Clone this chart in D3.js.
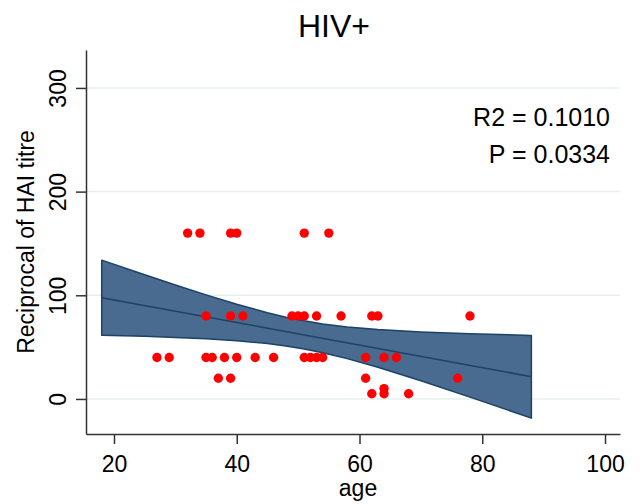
<!DOCTYPE html>
<html>
<head>
<meta charset="utf-8">
<script src="https://cdn.jsdelivr.net/npm/d3@7"></script>
<style>
  html, body { margin: 0; padding: 0; background: #fff; }
  svg { display: block; font-family: "Liberation Sans", Arial, sans-serif; }
</style>
</head>
<body>
<div id="chart"></div>
<script>
// data
const ages   = [32, 34, 39, 40, 51, 55,
                35, 39, 41, 49, 50, 51, 53, 57, 62, 63, 78,
                27, 29, 35, 36, 38, 40, 43, 46, 51, 52, 53, 54, 61, 64, 66,
                37, 39, 61, 76,
                64,
                62, 64, 68];
const titres = [160, 160, 160, 160, 160, 160,
                80, 80, 80, 80, 80, 80, 80, 80, 80, 80, 80,
                40, 40, 40, 40, 40, 40, 40, 40, 40, 40, 40, 40, 40, 40, 40,
                20, 20, 20, 20,
                10,
                5, 5, 5];

// fitted line and 95% CI band
const bandAges  = [18, 25, 30, 35, 40, 45, 48, 51, 54, 58, 63, 70, 78, 88];
const bandUpper = [133.9, 119.8, 109.9, 100.4, 91.3, 83.2, 78.9, 75.4, 72.4, 69.5, 66.9, 64.7, 63.0, 61.2];
const bandLower = [61.5, 60.4, 59.3, 58.0, 56.2, 53.4, 51.1, 48.2, 44.6, 38.9, 30.5, 17.5, 1.8, -18.5];
const fitAges   = [18, 88];
const fitValues = [97.7, 21.5];

const xTicks = [20, 40, 60, 80, 100];
const yTicks = [0, 100, 200, 300];
const title = "HIV+";
const xTitle = "age";
const yTitle = "Reciprocal of HAI titre";
const stats = ["R2 = 0.1010", "P = 0.0334"];

const W = 640, H = 504;
const plotLeft = 86, plotRight = 620, plotTop = 50, plotBottom = 434;

const x = d3.scaleLinear().domain([15.44, 102.44]).range([plotLeft, plotRight]);
const y = d3.scaleLinear().domain([-33.8, 336.6]).range([plotBottom, plotTop]);

const svg = d3.select("#chart").append("svg")
    .attr("width", W)
    .attr("height", H);

// gridlines
svg.append("g")
    .selectAll("line")
    .data(yTicks)
    .join("line")
    .attr("x1", plotLeft).attr("x2", plotRight)
    .attr("y1", d => y(d)).attr("y2", d => y(d))
    .attr("stroke", "#e6efef")
    .attr("stroke-width", 1.5);

// CI band
const band = bandAges.map((a, i) => ({a, lo: bandLower[i], hi: bandUpper[i]}));
svg.append("path")
    .datum(band)
    .attr("d", d3.area().x(d => x(d.a)).y0(d => y(d.lo)).y1(d => y(d.hi)))
    .attr("fill", "#486b8f")
    .attr("stroke", "#1c4268")
    .attr("stroke-width", 1.5)
    .attr("stroke-linejoin", "round");

// fitted line
svg.append("path")
    .datum(fitAges.map((a, i) => [a, fitValues[i]]))
    .attr("d", d3.line().x(d => x(d[0])).y(d => y(d[1])))
    .attr("fill", "none")
    .attr("stroke", "#1c4268")
    .attr("stroke-width", 1.5);

// points
svg.append("g")
    .selectAll("circle")
    .data(ages.map((a, i) => [a, titres[i]]))
    .join("circle")
    .attr("cx", d => x(d[0]))
    .attr("cy", d => y(d[1]))
    .attr("r", 4.7)
    .attr("fill", "#ff0000");

// axes
const xAxis = svg.append("g")
    .attr("transform", `translate(0,${plotBottom})`)
    .call(d3.axisBottom(x).tickValues(xTicks).tickSize(10).tickSizeOuter(0).tickPadding(12));
const yAxis = svg.append("g")
    .attr("transform", `translate(${plotLeft},0)`)
    .call(d3.axisLeft(y).tickValues(yTicks).tickSize(10).tickSizeOuter(0));

[xAxis, yAxis].forEach(g => {
    g.select(".domain").attr("stroke", "#333").attr("stroke-width", 1.5);
    g.selectAll(".tick line").attr("stroke", "#333").attr("stroke-width", 1.5);
});
xAxis.selectAll(".tick text")
    .attr("font-size", 23)
    .attr("font-family", "Liberation Sans, Arial, sans-serif")
    .attr("fill", "#000");
yAxis.selectAll(".tick text")
    .attr("font-size", 23)
    .attr("font-family", "Liberation Sans, Arial, sans-serif")
    .attr("fill", "#000")
    .attr("text-anchor", "middle")
    .attr("dy", null)
    .attr("x", null)
    .attr("transform", "translate(-20,0) rotate(-90)");

// titles
svg.append("text")
    .attr("x", 334).attr("y", 37)
    .attr("text-anchor", "middle")
    .attr("font-size", 32)
    .text(title);

svg.append("text")
    .attr("x", 358).attr("y", 496)
    .attr("text-anchor", "middle")
    .attr("font-size", 23)
    .text(xTitle);

svg.append("text")
    .attr("transform", `translate(34,${(plotTop + plotBottom) / 2}) rotate(-90)`)
    .attr("text-anchor", "middle")
    .attr("font-size", 23)
    .text(yTitle);

svg.append("g")
    .selectAll("text")
    .data(stats)
    .join("text")
    .attr("x", 610)
    .attr("y", (d, i) => 126 + i * 37)
    .attr("text-anchor", "end")
    .attr("font-size", 25)
    .text(d => d);
</script>
</body>
</html>
